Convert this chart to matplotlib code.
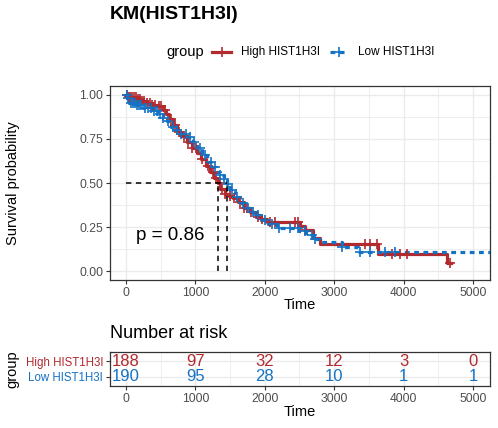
import numpy as np
import matplotlib
matplotlib.use("Agg")
import matplotlib.pyplot as plt
from matplotlib.lines import Line2D

plt.rcParams["font.family"] = ["Liberation Sans", "DejaVu Sans"]

RED = "#B2292E"
BLUE = "#1372C4"
GRID = "#EBEBEB"
TICK_TXT = "#4D4D4D"

# step points of the Kaplan-Meier curves (time, survival)
high_t = [0, 30, 80, 150, 220, 300, 380, 450, 530, 580, 620, 680, 735, 800, 880,
          950, 1020, 1080, 1150, 1210, 1270, 1325, 1360, 1420, 1480, 1545, 1620,
          1700, 1785, 1870, 1950, 2030, 2505, 2580, 2690, 2800, 3630, 4625, 4680]
high_s = [1.00, 0.99, 0.985, 0.975, 0.965, 0.955, 0.945, 0.935, 0.915, 0.89, 0.865,
          0.83, 0.79, 0.765, 0.733, 0.70, 0.67, 0.635, 0.595, 0.56, 0.53, 0.50,
          0.465, 0.44, 0.425, 0.415, 0.39, 0.36, 0.335, 0.31, 0.295, 0.277, 0.255,
          0.233, 0.19, 0.152, 0.10, 0.047, 0.047]
high_cens = [20, 40, 60, 90, 110, 140, 170, 200, 230, 260, 300, 340, 380, 420, 470,
             510, 560, 650, 700, 760, 830, 900, 950, 1010, 1100, 1180, 1250, 1300,
             1350, 1380, 1430, 1500, 1560, 1640, 1700, 1750, 1800, 1900, 1960, 2075,
             2145, 2435, 2480, 2580, 3440, 3515, 3620, 3830, 3950, 4050, 4670]

low_t = [0, 20, 50, 150, 250, 390, 465, 530, 590, 650, 705, 780, 870, 965, 1030,
         1100, 1165, 1230, 1300, 1355, 1410, 1455, 1500, 1570, 1640, 1720, 1800,
         1860, 1950, 2050, 2175, 2500, 2600, 2700, 2800, 3110, 3340, 5400]
low_s = [1.0, 0.98, 0.955, 0.94, 0.925, 0.91, 0.89, 0.87, 0.85, 0.82, 0.80, 0.775,
         0.76, 0.73, 0.70, 0.66, 0.62, 0.59, 0.565, 0.545, 0.52, 0.495, 0.46, 0.42,
         0.386, 0.36, 0.335, 0.318, 0.29, 0.265, 0.244, 0.225, 0.205, 0.185, 0.165,
         0.135, 0.11, 0.11]
low_cens = [10, 30, 70, 100, 130, 160, 190, 220, 280, 320, 360, 400, 450, 490, 540,
            600, 680, 740, 800, 860, 920, 980, 1060, 1140, 1220, 1290, 1360, 1410,
            1470, 1530, 1600, 1680, 1760, 1830, 1900, 2000, 2100, 2200, 2360, 2480,
            2580, 2680, 2720, 3110, 3370, 3515, 3730, 3875]

groups = ["High HIST1H3I", "Low HIST1H3I"]
risk_times = [0, 1000, 2000, 3000, 4000, 5000]
risk_high = [188, 97, 32, 12, 3, 0]
risk_low = [190, 95, 28, 10, 1, 1]
pval_text = "p = 0.86"

W, H = 498, 428
fig = plt.figure(figsize=(W / 100, H / 100), dpi=100)


def fx(px):
    return px / W


def fy(py):
    return 1 - py / H


def step_value(times, surv, t):
    idx = np.searchsorted(times, t, side="right") - 1
    return np.asarray(surv)[idx]


def median_time(times, surv):
    for t, s in zip(times, surv):
        if s <= 0.5:
            return t
    return None


def style_axes(ax):
    for sp in ax.spines.values():
        sp.set_color("#333333")
        sp.set_linewidth(0.9)
    ax.tick_params(length=3, width=0.8, color="#333333", labelcolor=TICK_TXT,
                   labelsize=8.7, pad=2)
    ax.set_axisbelow(True)


# ---- main survival panel
ax = fig.add_axes([fx(110), fy(280), fx(380), (280 - 86) / H])
style_axes(ax)
ax.set_xlim(-230, 5245)
ax.set_ylim(-0.05, 1.05)
ax.set_xticks(risk_times)
ax.set_xticks([500, 1500, 2500, 3500, 4500], minor=True)
ax.set_yticks([0, 0.25, 0.5, 0.75, 1.0])
ax.set_yticklabels(["0.00", "0.25", "0.50", "0.75", "1.00"])
ax.set_yticks([0.125, 0.375, 0.625, 0.875], minor=True)
ax.tick_params(which="minor", length=0)
ax.grid(True, which="major", color=GRID, lw=1.0)
ax.grid(True, which="minor", color=GRID, lw=0.6)

ax.plot(high_t, high_s, drawstyle="steps-post", color=RED, lw=2.3, zorder=3)
ax.plot(low_t, low_s, drawstyle="steps-post", color=BLUE, lw=2.3,
        dashes=(1.5, 1.4), zorder=3)
ax.plot(high_cens, step_value(high_t, high_s, high_cens), ls="none", marker="+",
        ms=6.5, mew=1.2, color=RED, zorder=4)
ax.plot(low_cens, step_value(low_t, low_s, low_cens), ls="none", marker="+",
        ms=6.5, mew=1.2, color=BLUE, zorder=4)

med_high = median_time(high_t, high_s)
med_low = median_time(low_t, low_s)
ax.plot([0, max(med_high, med_low)], [0.5, 0.5], color="black", lw=1.1,
        dashes=(3.5, 3), zorder=5)
for m in (med_high, med_low):
    ax.plot([m, m], [0, 0.5], color="black", lw=1.1, dashes=(3.5, 3), zorder=5)

ax.text(150, 0.2, pval_text, fontsize=13.5, ha="left", va="center")

fig.text(fx(300), fy(305), "Time", fontsize=10.5, ha="center", va="center")
fig.text(fx(13), fy(183), "Survival probability", fontsize=10.5, rotation=90,
         ha="center", va="center")

# ---- title and legend
fig.text(fx(110), fy(14.5), "KM(HIST1H3I)", fontsize=14, fontweight="bold",
         ha="left", va="center")
fig.text(fx(166), fy(52), "group", fontsize=10.5, ha="left", va="center")
for (x0, x1, xt), col, lab, dash in [((212, 231, 241), RED, groups[0], None),
                                     ((330, 347, 358), BLUE, groups[1], (1.5, 1.4))]:
    ln = Line2D([fx(x0), fx(x1)], [fy(52), fy(52)], transform=fig.transFigure,
                color=col, lw=2.3)
    if dash:
        ln.set_dashes(dash)
    fig.add_artist(ln)
    fig.add_artist(Line2D([fx((x0 + x1) / 2)], [fy(52)], transform=fig.transFigure,
                          color=col, marker="+", ms=6.5, mew=1.2, ls="none"))
    fig.text(fx(xt), fy(52), lab, fontsize=8.5, ha="left", va="center")

# ---- risk table
fig.text(fx(110), fy(334), "Number at risk", fontsize=13, ha="left", va="center")
rax = fig.add_axes([fx(110), fy(386), fx(380), (386 - 352) / H])
style_axes(rax)
rax.set_xlim(-230, 5245)
rax.set_ylim(0.4, 2.6)
rax.set_xticks(risk_times)
rax.set_xticks([500, 1500, 2500, 3500, 4500], minor=True)
rax.set_yticks([1, 2])
rax.set_yticklabels([groups[1], groups[0]])
rax.tick_params(axis="y", labelsize=8.3)
rax.tick_params(which="minor", length=0)
for lab, col in zip(rax.get_yticklabels(), [BLUE, RED]):
    lab.set_color(col)
rax.grid(True, which="major", color=GRID, lw=1.0)
rax.grid(True, which="minor", axis="x", color=GRID, lw=0.6)
for t, nh, nl in zip(risk_times, risk_high, risk_low):
    rax.text(t, 2, str(nh), color=RED, fontsize=12, ha="center", va="center")
    rax.text(t, 1, str(nl), color=BLUE, fontsize=12, ha="center", va="center")

fig.text(fx(300), fy(412), "Time", fontsize=10.5, ha="center", va="center")
fig.text(fx(12), fy(369), "group", fontsize=10.5, rotation=90,
         ha="center", va="center")

fig.savefig("out.png", dpi=100)
